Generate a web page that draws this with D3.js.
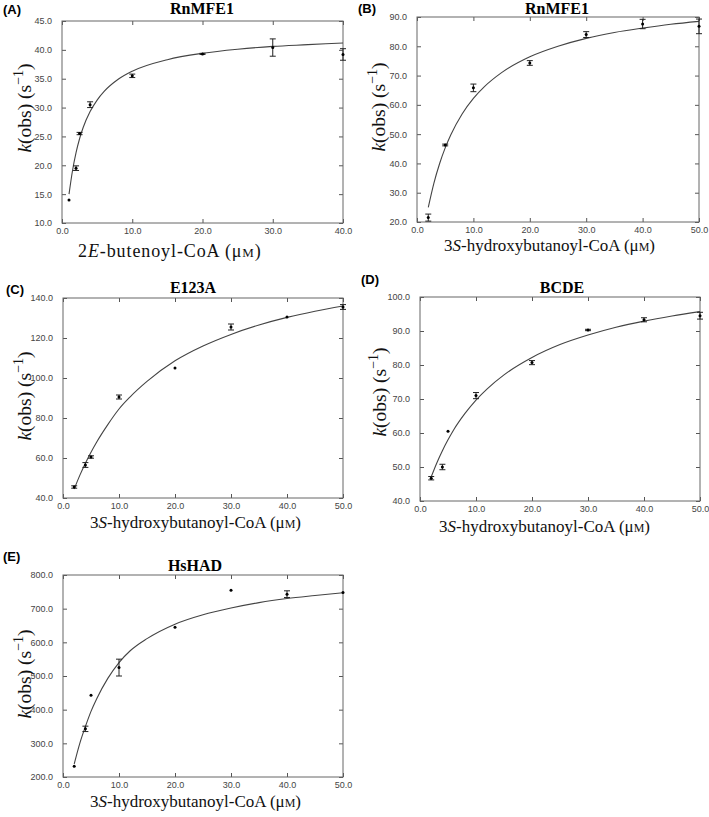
<!DOCTYPE html>
<html>
<head>
<meta charset="utf-8">
<script src="https://cdn.jsdelivr.net/npm/d3@7.9.0/dist/d3.min.js"></script>
<style>
  body { margin: 0; background: #fff; }
  svg { display: block; }
</style>
</head>
<body>
<svg id="chart" width="709" height="817"></svg>
<script>
// substrate concentrations (uM)
const butenoylConc = [1, 2, 2.5, 4, 10, 20, 30, 40];
const hydroxyConcB = [2, 5, 10, 20, 30, 40, 50];
const hydroxyConc = [2, 4, 5, 10, 20, 30, 40, 50];

// observed rates and error bars
const rnButenoylRate = [14.0, 19.5, 25.5, 30.5, 35.5, 39.3, 40.4, 39.2];
const rnButenoylErr = [0, 0.4, 0.2, 0.5, 0.3, 0.1, 1.5, 1.0];
const rnHydroxyRate = [21.5, 46.3, 65.8, 74.3, 84.0, 87.6, 86.8];
const rnHydroxyErr = [1.2, 0.3, 1.3, 0.8, 1.0, 1.6, 2.5];
const e123aRate = [45.5, 56.5, 60.5, 90.5, 105.0, 125.5, 130.5, 135.5];
const e123aErr = [0.6, 1.2, 0.6, 1.0, 0, 1.5, 0, 1.2];
const bcdeRate = [46.7, 50.0, 60.5, 71.0, 80.7, 90.3, 93.3, 94.5];
const bcdeErr = [0.5, 0.8, 0, 0.9, 0.6, 0.2, 0.6, 1.0];
const hshadRate = [232, 343, 443, 525, 645, 755, 743, 748];
const hshadErr = [0, 8, 0, 25, 0, 0, 10, 0];

// fitted curves
const butenoylFitX = [1, 1.5, 2, 2.5, 3, 4, 5, 6, 8, 10, 15, 20, 25, 30, 35, 40];
const rnButenoylFit = [15.0, 19.1, 22.2, 24.6, 26.5, 29.3, 31.3, 32.8, 34.9, 36.3, 38.3, 39.4, 40.1, 40.6, 40.9, 41.2];
const hydroxyFitX = [2, 3, 4, 5, 6, 8, 10, 12, 15, 20, 25, 30, 35, 40, 45, 50];
const rnHydroxyFit = [25.0, 33.3, 39.9, 45.3, 49.8, 56.9, 62.2, 66.3, 71.0, 76.4, 80.0, 82.7, 84.7, 86.2, 87.5, 88.5];
const e123aFit = [44.5, 51.3, 57.4, 62.9, 67.9, 76.7, 84.5, 90.6, 98.3, 108.6, 116.0, 121.8, 126.5, 130.3, 133.4, 136.0];
const bcdeFit = [47.1, 51.2, 54.8, 58.0, 60.9, 65.7, 69.7, 73.0, 77.1, 82.2, 86.0, 88.8, 91.1, 92.9, 94.4, 95.7];
const hshadFit = [238.6, 300, 350, 395, 432, 493, 540, 575, 611, 654, 682, 702, 718, 730, 739, 747.4];

// axis ticks
const xTicks40 = [0, 10, 20, 30, 40];
const xTicks50 = [0, 10, 20, 30, 40, 50];
const yTicksA = [10, 15, 20, 25, 30, 35, 40, 45];
const yTicksB = [20, 30, 40, 50, 60, 70, 80, 90];
const yTicksC = [40, 60, 80, 100, 120, 140];
const yTicksD = [40, 50, 60, 70, 80, 90, 100];
const yTicksE = [200, 300, 400, 500, 600, 700, 800];

// xlab: [start x, font size, letter spacing, baseline y]
const panels = [
  { tag: '(A)', title: 'RnMFE1', sub: ['2', 'E', '-butenoyl-CoA (μ'],
    x: butenoylConc, y: rnButenoylRate, err: rnButenoylErr, fx: butenoylFitX, fy: rnButenoylFit,
    xt: xTicks40, yt: yTicksA,
    box: [62, 343, 21, 223], tagPos: [3, 14], titlePos: [202, 14], xlab: [78, 18, 0.9, 257], ylab: [31, 108] },
  { tag: '(B)', title: 'RnMFE1', sub: ['3', 'S', '-hydroxybutanoyl-CoA (μ'],
    x: hydroxyConcB, y: rnHydroxyRate, err: rnHydroxyErr, fx: hydroxyFitX, fy: rnHydroxyFit,
    xt: xTicks50, yt: yTicksB,
    box: [417, 699, 17, 222], tagPos: [358, 13], titlePos: [557, 14], xlab: [444, 17, 0, 251], ylab: [385, 107] },
  { tag: '(C)', title: 'E123A', sub: ['3', 'S', '-hydroxybutanoyl-CoA (μ'],
    x: hydroxyConc, y: e123aRate, err: e123aErr, fx: hydroxyFitX, fy: e123aFit,
    xt: xTicks50, yt: yTicksC,
    box: [63, 343, 298, 498], tagPos: [6, 294], titlePos: [193, 293], xlab: [90, 17, 0, 528], ylab: [31, 396] },
  { tag: '(D)', title: 'BCDE', sub: ['3', 'S', '-hydroxybutanoyl-CoA (μ'],
    x: hydroxyConc, y: bcdeRate, err: bcdeErr, fx: hydroxyFitX, fy: bcdeFit,
    xt: xTicks50, yt: yTicksD,
    box: [420, 700, 297, 501], tagPos: [361, 284], titlePos: [562, 293], xlab: [439, 17, 0, 532], ylab: [386, 392] },
  { tag: '(E)', title: 'HsHAD', sub: ['3', 'S', '-hydroxybutanoyl-CoA (μ'],
    x: hydroxyConc, y: hshadRate, err: hshadErr, fx: hydroxyFitX, fy: hshadFit,
    xt: xTicks50, yt: yTicksE,
    box: [63, 343, 575, 777], tagPos: [3, 561], titlePos: [195, 571], xlab: [90, 17, 0, 807], ylab: [31, 674] },
];

const svg = d3.select('#chart');
const fmt = d3.format('.1f');
const serif = '"Liberation Serif", "Times New Roman", serif';
const sans = '"Liberation Sans", Arial, sans-serif';

panels.forEach(p => {
  const [l, r, t, b] = p.box;
  const xs = d3.scaleLinear().domain([p.xt[0], p.xt[p.xt.length - 1]]).range([l, r]);
  const ys = d3.scaleLinear().domain([p.yt[0], p.yt[p.yt.length - 1]]).range([b, t]);
  const g = svg.append('g');

  // axes, ticks inside on all four sides
  const axes = [
    [d3.axisBottom(xs).tickValues(p.xt).tickFormat(fmt), `translate(0,${b})`],
    [d3.axisTop(xs).tickValues(p.xt).tickFormat(''), `translate(0,${t})`],
    [d3.axisLeft(ys).tickValues(p.yt).tickFormat(fmt), `translate(${l},0)`],
    [d3.axisRight(ys).tickValues(p.yt).tickFormat(''), `translate(${r},0)`],
  ];
  axes.forEach(([ax, tr], i) => {
    const a = g.append('g').attr('transform', tr)
      .call(ax.tickSizeInner(-4).tickSizeOuter(0).tickPadding(i === 2 ? 10 : 5));
    a.select('.domain').remove();
    a.selectAll('line').attr('stroke', '#555');
    a.selectAll('text').attr('fill', '#444').style('font', `9px ${sans}`);
  });
  g.append('rect')
    .attr('x', l).attr('y', t).attr('width', r - l).attr('height', b - t)
    .attr('fill', 'none').attr('stroke', '#666').attr('stroke-width', 1);

  // fitted curve
  const fit = p.fx.map((v, i) => [v, p.fy[i]]);
  g.append('path')
    .datum(fit)
    .attr('d', d3.line().x(d => xs(d[0])).y(d => ys(d[1])).curve(d3.curveMonotoneX))
    .attr('fill', 'none').attr('stroke', '#444').attr('stroke-width', 1.1);

  // error bars and points
  const pts = p.x.map((v, i) => ({ x: v, y: p.y[i], e: p.err[i] }));
  const eb = g.selectAll('.eb').data(pts.filter(d => d.e > 0)).enter().append('g')
    .attr('stroke', '#222').attr('stroke-width', 1);
  eb.append('line')
    .attr('x1', d => xs(d.x)).attr('x2', d => xs(d.x))
    .attr('y1', d => ys(d.y - d.e)).attr('y2', d => ys(d.y + d.e));
  [-1, 1].forEach(s => {
    eb.append('line')
      .attr('x1', d => xs(d.x) - 3).attr('x2', d => xs(d.x) + 3)
      .attr('y1', d => ys(d.y + s * d.e)).attr('y2', d => ys(d.y + s * d.e));
  });
  g.selectAll('.pt').data(pts).enter().append('circle')
    .attr('cx', d => xs(d.x)).attr('cy', d => ys(d.y)).attr('r', 1.5)
    .attr('fill', '#000');

  // texts
  g.append('text').attr('x', p.tagPos[0]).attr('y', p.tagPos[1])
    .style('font', `bold 13px ${sans}`).attr('fill', '#000').text(p.tag);
  g.append('text').attr('x', p.titlePos[0]).attr('y', p.titlePos[1])
    .attr('text-anchor', 'middle').style('font', `bold 16px ${serif}`).attr('fill', '#000')
    .text(p.title);

  const [lx, lfs, lsp, ly] = p.xlab;
  const xl = g.append('text').attr('x', lx).attr('y', ly)
    .style('font', `${lfs}px ${serif}`).style('letter-spacing', `${lsp}px`).attr('fill', '#111');
  xl.append('tspan').text(p.sub[0]);
  xl.append('tspan').attr('font-style', 'italic').text(p.sub[1]);
  xl.append('tspan').text(p.sub[2]);
  xl.append('tspan').attr('font-size', `${Math.round(lfs * 0.72)}px`).text('M');
  xl.append('tspan').text(')');

  const yl = g.append('text')
    .attr('transform', `translate(${p.ylab[0]},${p.ylab[1]}) rotate(-90)`)
    .attr('text-anchor', 'middle').style('font', `19.5px ${serif}`).attr('fill', '#111');
  yl.append('tspan').attr('font-style', 'italic').text('k');
  yl.append('tspan').text('(obs) (s');
  yl.append('tspan').attr('font-size', '14px').attr('dy', -8).text('−1');
  yl.append('tspan').attr('dy', 8).text(')');
});
</script>
</body>
</html>
